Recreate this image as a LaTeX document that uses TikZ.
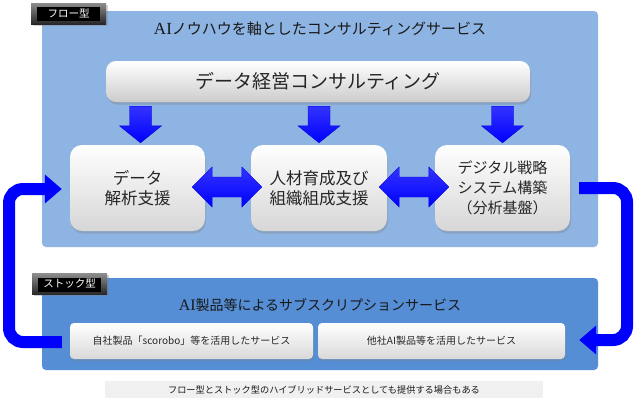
\documentclass[tikz,border=0pt]{standalone}
\usepackage{fontspec}
\setmainfont{Noto Sans CJK JP}
\newfontfamily\serifai{Liberation Serif}
\usetikzlibrary{shadows,calc,arrows.meta}
\definecolor{flowbg}{HTML}{8EB4E3}
\definecolor{stockbg}{HTML}{558ED5}
\definecolor{arrblue}{HTML}{0000FF}
\definecolor{txt}{HTML}{262626}
\definecolor{notebg}{HTML}{F0F0F0}
\tikzset{
  panel/.style={rounded corners=4pt, inner sep=0pt},
  tabbox/.style={top color=black!45, bottom color=black!85, text=white, minimum width=75pt, minimum height=21pt,
    inner sep=0pt, font=\fontsize{10.5}{12}\selectfont,
    drop shadow={shadow xshift=1.5pt, shadow yshift=-1.5pt, opacity=0.35},
    path picture={\fill[black] ($(path picture bounding box.south west)+(6pt,3pt)$) rectangle ($(path picture bounding box.north east)+(-6pt,-4pt)$);}},
  card/.style={rounded corners=12pt, top color=white, bottom color=black!16, text=txt, align=center,
    minimum width=135pt, minimum height=86pt, inner sep=0pt,
    drop shadow={shadow xshift=1pt, shadow yshift=-2.5pt, opacity=0.35},
    font=\fontsize{16.5}{20}\selectfont},
  barbox/.style={rounded corners=10pt, top color=white, bottom color=black!20, text=txt,
    minimum width=424pt, minimum height=41pt, inner sep=0pt,
    drop shadow={shadow xshift=1pt, shadow yshift=-2.5pt, opacity=0.35},
    font=\fontsize{19}{22}\selectfont},
  stockbox/.style={rounded corners=4pt, top color=white, bottom color=black!15, text=txt,
    minimum height=36pt, inner sep=0pt,
    drop shadow={shadow xshift=1pt, shadow yshift=-2pt, opacity=0.3},
    font=\fontsize{10}{12}\selectfont},
  titletext/.style={text=black!90, inner sep=0pt, font=\fontsize{15}{18}\selectfont},
  arrfill/.style={top color=arrblue!80!white, bottom color=arrblue, draw=arrblue!85!black, line width=0.4pt},
  loopline/.style={draw=arrblue, line width=12pt, rounded corners=14pt,
    -{Triangle[width=28pt,length=17pt]}},
}
\newcommand\blockdown[2]{%
  \path[arrfill] let \p1=(#1), \p2=(#2) in
   (\x2-11pt,\y1) -- (\x2+11pt,\y1) -- (\x2+11pt,\y2+17pt) -- (\x2+21pt,\y2+17pt) -- (\x2,\y2)
   -- (\x2-21pt,\y2+17pt) -- (\x2-11pt,\y2+17pt) -- cycle;}
\newcommand\blockdouble[2]{%
  \path[arrfill] let \p1=(#1), \p2=(#2) in
   (\x1,\y1) -- (\x1+20pt,\y1+20pt) -- (\x1+20pt,\y1+10pt) -- (\x2-20pt,\y1+10pt) -- (\x2-20pt,\y1+20pt)
   -- (\x2,\y1) -- (\x2-20pt,\y1-20pt) -- (\x2-20pt,\y1-10pt) -- (\x1+20pt,\y1-10pt) -- (\x1+20pt,\y1-20pt) -- cycle;}
\begin{document}
\begin{tikzpicture}[x=1pt,y=-1pt]
\useasboundingbox[fill=white] (0,0) rectangle (640,405);
% panels
\node[panel, fill=flowbg, minimum width=556pt, minimum height=236pt] (flow) at (320,129) {};
\node[panel, fill=stockbg, minimum width=556pt, minimum height=92pt] (stock) at (320,324) {};
% tabs
\node[tabbox] (ftab) at (68.5,13.5) {フロー型};
\node[tabbox] (stab) at (69.5,284) {ストック型};
% titles
\node[titletext] (ftitle) at (320,29) {{\serifai\fontsize{17}{18}\selectfont AI}ノウハウを軸としたコンサルティングサービス};
\node[titletext, font=\fontsize{14}{18}\selectfont] (stitle) at (320,305) {{\serifai\fontsize{16}{18}\selectfont AI}製品等によるサブスクリプションサービス};
% bar
\node[barbox] (bar) at (318,81.5) {データ経営コンサルティング};
% cards
\node[card] (b1) at (137.5,188) {データ\\解析支援};
\node[card, minimum width=136pt] (b2) at (319,188) {人材育成及び\\組織組成支援};
\node[card, font=\fontsize{15}{20}\selectfont] (b3) at (502.5,188) {デジタル戦略\\システム構築\\（分析基盤）};
% stock boxes
\node[stockbox, minimum width=243pt] (sA) at (191.5,341) {自社製品「scorobo」等を活用したサービス};
\node[stockbox, minimum width=247pt] (sB) at (441.5,341) {他社AI製品等を活用したサービス};
% note
\node[fill=notebg, minimum width=438pt, minimum height=17pt, inner sep=0pt, text=black!90,
  font=\fontsize{9.2}{11}\selectfont] (note) at (324,389.5) {フロー型とストック型のハイブリッドサービスとしても提供する場合もある};
% down arrows
\coordinate (d1s) at ($(b1.north |- bar.south)+(3,4)$);
\coordinate (d1t) at ($(b1.north)+(3,-2)$);
\coordinate (d2s) at ($(b2.north |- bar.south)+(0,4)$);
\coordinate (d2t) at ($(b2.north)+(0,-2)$);
\coordinate (d3s) at ($(b3.north |- bar.south)+(0,4)$);
\coordinate (d3t) at ($(b3.north)+(0,-2)$);
\blockdown{d1s}{d1t}
\blockdown{d2s}{d2t}
\blockdown{d3s}{d3t}
% double arrows
\coordinate (h1l) at ($(b1.east)+(-13,-1)$);
\coordinate (h1r) at ($(b2.west)+(11,-1)$);
\coordinate (h2l) at ($(b2.east)+(-8,-1)$);
\coordinate (h2r) at ($(b3.west)+(14,-1)$);
\blockdouble{h1l}{h1r}
\blockdouble{h2l}{h2r}
% loop connectors
\coordinate (rx) at (627,0);
\coordinate (lx) at (9,0);
\draw[loopline] ($(b3.east)+(9,0)$) -| ($(rx |- sB.east)+(0,-1)$) -- ($(sB.east)+(14,-1)$);
\draw[loopline] ($(sA.west)+(-8,1)$) -| ($(lx |- b1.west)+(0,1)$) -- ($(b1.west)+(-8,1)$);
\end{tikzpicture}
\end{document}
